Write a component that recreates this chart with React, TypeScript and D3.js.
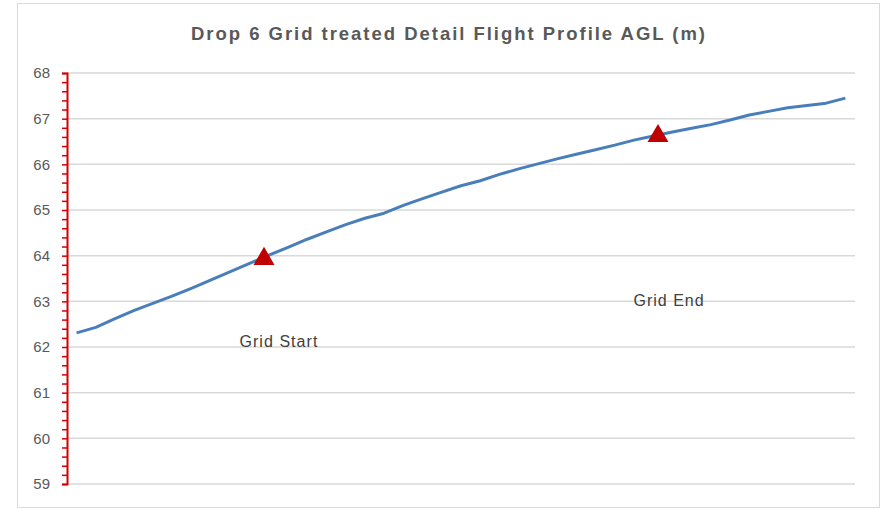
import React, { useEffect, useRef } from 'react';
import * as d3 from 'd3';

const chartTitle = 'Drop 6 Grid treated Detail Flight Profile AGL (m)';

// AGL height (m) along the drop, one value per sample
const agl = [
  62.31, 62.43, 62.62, 62.8, 62.96, 63.12, 63.29, 63.47, 63.65, 63.83,
  64.01, 64.18, 64.36, 64.52, 64.68, 64.82, 64.93, 65.1, 65.25, 65.39,
  65.53, 65.64, 65.78, 65.9, 66.01, 66.12, 66.22, 66.32, 66.42, 66.53,
  66.62, 66.71, 66.79, 66.87, 66.97, 67.08, 67.16, 67.24, 67.29, 67.34,
  67.45,
];

const markerNames = ['Grid Start', 'Grid End'];
const markerIndex = [9.75, 30.25];
const markerValue = [63.93, 66.62];
// label anchors, in data units
const labelIndex = [10.5, 30.8];
const labelValue = [62.0, 62.9];

const yTicks = [59, 60, 61, 62, 63, 64, 65, 66, 67, 68];

export default function App() {
  const ref = useRef<SVGSVGElement>(null);

  useEffect(() => {
    const width = 885, height = 510;
    const left = 67, right = 855, top = 73, bottom = 484;

    const svg = d3.select(ref.current)
      .attr('width', width)
      .attr('height', height);
    svg.selectAll('*').remove();

    const x = d3.scaleLinear().domain([-0.5, agl.length - 0.5]).range([left, right]);
    const y = d3.scaleLinear().domain([59, 68]).range([bottom, top]);

    svg.append('rect')
      .attr('x', 17.5).attr('y', 3.5)
      .attr('width', 862).attr('height', 504)
      .attr('fill', '#fff')
      .attr('stroke', '#d9d9d9');

    svg.append('text')
      .attr('x', 448).attr('y', 40)
      .attr('text-anchor', 'middle')
      .attr('font-family', 'Liberation Sans, Arial, sans-serif')
      .attr('font-size', 18.5)
      .attr('font-weight', 'bold')
      .attr('fill', '#595959')
      .attr('textLength', 514)
      .attr('lengthAdjust', 'spacing')
      .text(chartTitle);

    // gridlines
    svg.append('g').selectAll('line')
      .data(yTicks)
      .enter().append('line')
      .attr('x1', left).attr('x2', right)
      .attr('y1', d => y(d)).attr('y2', d => y(d))
      .attr('stroke', '#d9d9d9')
      .attr('stroke-width', 1.5);

    // value axis, red with minor ticks every 0.2
    const axis = d3.axisLeft(y)
      .tickValues(d3.range(59, 68.01, 0.2))
      .tickSize(5)
      .tickFormat(() => '');
    const gAxis = svg.append('g')
      .attr('transform', `translate(${left},0)`)
      .call(axis);
    gAxis.select('.domain').attr('stroke', '#d40000').attr('stroke-width', 2);
    gAxis.selectAll('.tick line').attr('stroke', '#d40000').attr('stroke-width', 1.5);

    svg.append('g').selectAll('text')
      .data(yTicks)
      .enter().append('text')
      .attr('x', 50)
      .attr('y', d => y(d))
      .attr('dy', '0.35em')
      .attr('text-anchor', 'end')
      .attr('font-family', 'Liberation Sans, Arial, sans-serif')
      .attr('font-size', 15)
      .attr('fill', '#595959')
      .text(d => d);

    const line = d3.line<number>()
      .x((d, i) => x(i))
      .y(d => y(d));

    svg.append('path')
      .datum(agl)
      .attr('d', line)
      .attr('fill', 'none')
      .attr('stroke', '#4a7ebb')
      .attr('stroke-width', 3)
      .attr('stroke-linejoin', 'round');

    const tri = d3.symbol().type(d3.symbolTriangle).size(190);
    svg.append('g').selectAll('path')
      .data(markerIndex)
      .enter().append('path')
      .attr('d', tri)
      .attr('transform', (d, i) => `translate(${x(d)},${y(markerValue[i])})`)
      .attr('fill', '#c00000');

    const labelWidths = [78, 70];
    svg.append('g').selectAll('text')
      .data(markerNames)
      .enter().append('text')
      .attr('x', (d, i) => x(labelIndex[i]))
      .attr('y', (d, i) => y(labelValue[i]))
      .attr('text-anchor', 'middle')
      .attr('font-family', 'Liberation Sans, Arial, sans-serif')
      .attr('font-size', 16)
      .attr('fill', '#404040')
      .attr('textLength', (d, i) => labelWidths[i])
      .attr('lengthAdjust', 'spacing')
      .text(d => d);
  }, []);

  return (
    <div style={{ position: 'absolute', left: 0, top: 0 }}>
      <svg ref={ref}></svg>
    </div>
  );
}
